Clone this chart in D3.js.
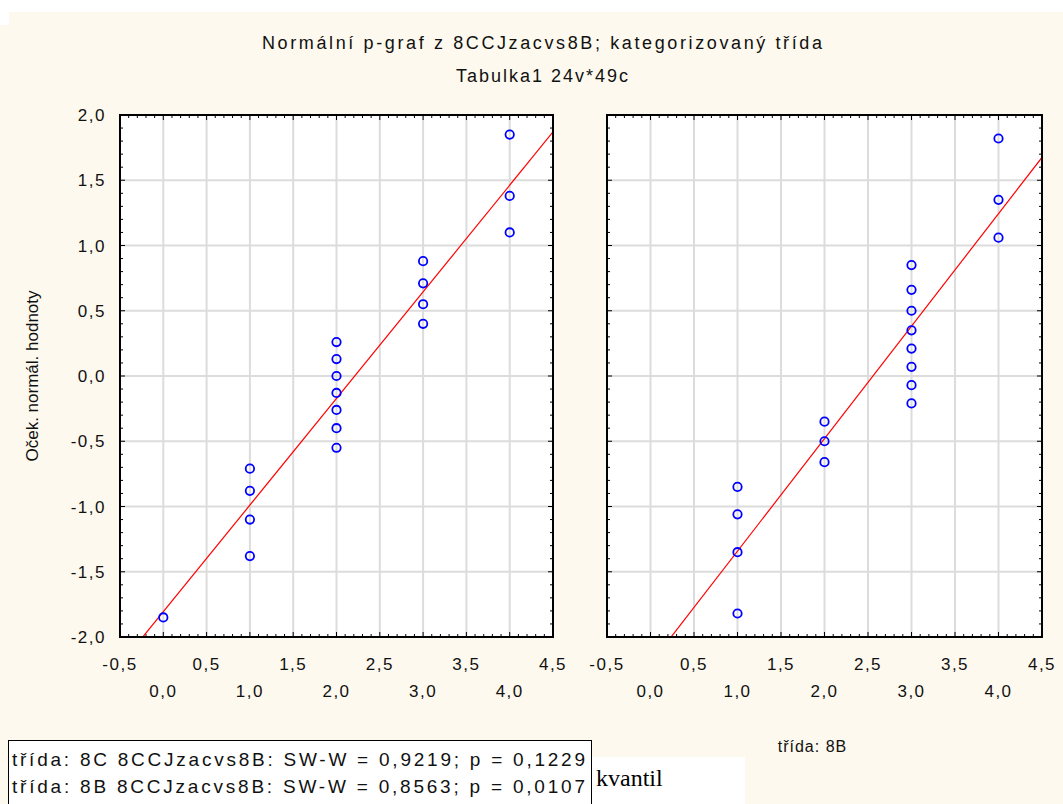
<!DOCTYPE html>
<html>
<head>
<meta charset="utf-8">
<script src="https://cdn.jsdelivr.net/npm/d3@7"></script>
<style>
  html, body { margin: 0; padding: 0; background: #fdf9ee; }
  svg { display: block; }
</style>
</head>
<body>
<svg id="chart" width="1063" height="804"></svg>
<script>
// values
const groups = ['8C', '8B'];
const obs8C = [0, 1, 1, 1, 1, 2, 2, 2, 2, 2, 2, 2, 3, 3, 3, 3, 4, 4, 4];
const exp8C = [-1.85, -1.38, -1.10, -0.88, -0.71, -0.55, -0.40, -0.26, -0.13, 0.00, 0.13, 0.26, 0.40, 0.55, 0.71, 0.88, 1.10, 1.38, 1.85];
const obs8B = [1, 1, 1, 1, 2, 2, 2, 3, 3, 3, 3, 3, 3, 3, 3, 4, 4, 4];
const exp8B = [-1.82, -1.35, -1.06, -0.85, -0.66, -0.50, -0.35, -0.21, -0.07, 0.07, 0.21, 0.35, 0.50, 0.66, 0.85, 1.06, 1.35, 1.82];
const fitSlope = [0.817, 0.862];
const fitIntercept = [-1.806, -2.204];
const xTicksTop = [-0.5, 0.5, 1.5, 2.5, 3.5, 4.5];
const xTicksBottom = [0, 1, 2, 3, 4];
const yTicks = [-2, -1.5, -1, -0.5, 0, 0.5, 1, 1.5, 2];
const titleLines = ['Normální p-graf z 8CCJzacvs8B; kategorizovaný třída', 'Tabulka1 24v*49c'];
const yTitle = 'Oček. normál. hodnoty';
const legendLines = [
    'třída: 8C  8CCJzacvs8B:  SW-W = 0,9219; p = 0,1229',
    'třída: 8B  8CCJzacvs8B:  SW-W = 0,8563; p = 0,0107'
];

const svg = d3.select('#chart');
const fmt = d3.formatLocale({decimal: ',', thousands: ' ', grouping: [3], currency: ['', ''], minus: '-'}).format('.1f');

svg.append('rect').attr('x', 0).attr('y', 0).attr('width', 1063).attr('height', 12).attr('fill', '#fff');
svg.append('rect').attr('x', 0).attr('y', 12).attr('width', 9).attr('height', 13).attr('fill', '#fff');

// titles
svg.selectAll('text.title')
    .data(titleLines)
    .enter().append('text')
    .attr('class', 'title')
    .attr('x', 542)
    .attr('y', (d, i) => 49 + i * 33)
    .attr('text-anchor', 'middle')
    .attr('font-family', 'Liberation Sans, Arial, sans-serif')
    .attr('font-size', 18)
    .attr('textLength', (d, i) => i === 0 ? 560 : 172)
    .attr('lengthAdjust', 'spacing')
    .attr('fill', '#111')
    .text(d => d);

const plotTop = 115, plotBottom = 637;
const panelX = [[120, 553], [607, 1042]];
const y = d3.scaleLinear().domain([-2, 2]).range([plotBottom, plotTop]);

const data = [
    obs8C.map((v, i) => ({x: v, z: exp8C[i]})),
    obs8B.map((v, i) => ({x: v, z: exp8B[i]}))
];

groups.forEach((g, gi) => {
    const x = d3.scaleLinear().domain([-0.5, 4.5]).range(panelX[gi]);
    const panel = svg.append('g');
    const clipId = 'clip' + gi;
    const w = x.range()[1] - x.range()[0];

    panel.append('clipPath').attr('id', clipId)
        .append('rect')
        .attr('x', x.range()[0]).attr('y', plotTop)
        .attr('width', w).attr('height', plotBottom - plotTop);

    panel.append('rect')
        .attr('x', x.range()[0]).attr('y', plotTop)
        .attr('width', w).attr('height', plotBottom - plotTop)
        .attr('fill', '#fff');

    // grid
    panel.append('g').selectAll('line')
        .data(x.ticks(10).filter(v => v > -0.5 && v < 4.5))
        .enter().append('line')
        .attr('x1', d => x(d)).attr('x2', d => x(d))
        .attr('y1', plotTop).attr('y2', plotBottom)
        .attr('stroke', '#dcdcdc').attr('stroke-width', 2);
    panel.append('g').selectAll('line')
        .data(y.ticks(8).filter(v => v > -2 && v < 2))
        .enter().append('line')
        .attr('y1', d => y(d)).attr('y2', d => y(d))
        .attr('x1', x.range()[0]).attr('x2', x.range()[1])
        .attr('stroke', '#dcdcdc').attr('stroke-width', 2);

    // inner tick marks on all four sides
    const ticks = panel.append('g').attr('stroke', '#000').attr('stroke-width', 1);
    const isMajor = v => Math.abs(v * 2 - Math.round(v * 2)) < 1e-6;
    x.ticks(50).forEach(v => {
        const len = isMajor(v) ? 5 : 3;
        ticks.append('line').attr('x1', x(v)).attr('x2', x(v)).attr('y1', plotBottom).attr('y2', plotBottom - len);
        ticks.append('line').attr('x1', x(v)).attr('x2', x(v)).attr('y1', plotTop).attr('y2', plotTop + len);
    });
    y.ticks(40).forEach(v => {
        const len = isMajor(v) ? 5 : 3;
        ticks.append('line').attr('y1', y(v)).attr('y2', y(v)).attr('x1', x.range()[0]).attr('x2', x.range()[0] + len);
        ticks.append('line').attr('y1', y(v)).attr('y2', y(v)).attr('x1', x.range()[1]).attr('x2', x.range()[1] - len);
    });

    // fitted line
    const xd = x.domain();
    panel.append('line')
        .attr('clip-path', 'url(#' + clipId + ')')
        .attr('x1', x(xd[0])).attr('y1', y(fitIntercept[gi] + fitSlope[gi] * xd[0]))
        .attr('x2', x(xd[1])).attr('y2', y(fitIntercept[gi] + fitSlope[gi] * xd[1]))
        .attr('stroke', '#ff0000').attr('stroke-width', 1.2);

    // points
    panel.append('g').selectAll('circle')
        .data(data[gi])
        .enter().append('circle')
        .attr('cx', d => x(d.x))
        .attr('cy', d => y(d.z))
        .attr('r', 4.2)
        .attr('fill', 'none')
        .attr('stroke', '#0000ff')
        .attr('stroke-width', 1.8);

    // frame
    panel.append('rect')
        .attr('x', x.range()[0]).attr('y', plotTop)
        .attr('width', w).attr('height', plotBottom - plotTop)
        .attr('fill', 'none').attr('stroke', '#000').attr('stroke-width', 2);

    // x labels, staggered in two rows
    const lab = panel.append('g')
        .attr('font-family', 'Liberation Sans, Arial, sans-serif')
        .attr('font-size', 17)
        .attr('letter-spacing', 1.5)
        .attr('fill', '#111')
        .attr('text-anchor', 'middle');
    lab.selectAll('text.r1').data(xTicksTop).enter().append('text')
        .attr('x', d => x(d)).attr('y', 670).text(d => fmt(d));
    lab.selectAll('text.r2').data(xTicksBottom).enter().append('text')
        .attr('x', d => x(d)).attr('y', 697).text(d => fmt(d));

    // category label (the left one sits partly under the statistics box, as in the source)
    svg.append('text')
        .attr('x', (x.range()[0] + x.range()[1]) / 2 - 12)
        .attr('y', 752)
        .attr('text-anchor', 'middle')
        .attr('font-family', 'Liberation Sans, Arial, sans-serif')
        .attr('font-size', 16)
        .attr('letter-spacing', 1)
        .attr('fill', '#111')
        .text('třída: ' + g);

    if (gi === 0) {
        const yAxis = panel.append('g')
            .attr('font-family', 'Liberation Sans, Arial, sans-serif')
            .attr('font-size', 17)
            .attr('letter-spacing', 1.5)
            .attr('fill', '#111')
            .attr('text-anchor', 'end');
        yAxis.selectAll('text').data(yTicks).enter().append('text')
            .attr('x', 106).attr('y', d => y(d) + 6).text(d => fmt(d));
    }
});

// y axis title
svg.append('text')
    .attr('transform', 'translate(38,376) rotate(-90)')
    .attr('text-anchor', 'middle')
    .attr('font-family', 'Liberation Sans, Arial, sans-serif')
    .attr('font-size', 17)
    .attr('fill', '#111')
    .text(yTitle);

// legend box with the test statistics
svg.append('rect')
    .attr('x', 590).attr('y', 757).attr('width', 155).attr('height', 50)
    .attr('fill', '#fff');
svg.append('text')
    .attr('x', 596).attr('y', 786)
    .attr('font-family', 'Liberation Serif, Times New Roman, serif')
    .attr('font-size', 24)
    .attr('fill', '#000')
    .text('kvantil');
svg.append('rect')
    .attr('x', 8.5).attr('y', 740.5).attr('width', 583).attr('height', 70)
    .attr('fill', '#fff').attr('stroke', '#000').attr('stroke-width', 1);
svg.selectAll('text.leg')
    .data(legendLines)
    .enter().append('text')
    .attr('class', 'leg')
    .attr('x', 12)
    .attr('y', (d, i) => 766 + i * 27)
    .attr('font-family', 'Liberation Sans, Arial, sans-serif')
    .attr('font-size', 19)
    .attr('textLength', 573)
    .attr('lengthAdjust', 'spacing')
    .attr('fill', '#111')
    .text(d => d);
</script>
</body>
</html>
